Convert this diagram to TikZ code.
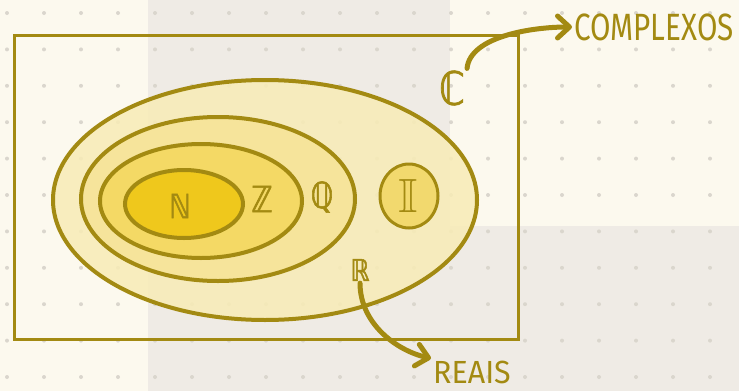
\documentclass[tikz,border=0pt]{standalone}
\usepackage{amssymb}
\usepackage{graphicx}
\usepackage{xcolor}
\usepackage{fontspec}
\usepackage{tikz}
\usetikzlibrary{arrows.meta}
\newfontfamily\handfont[FakeStretch=0.78]{Fira Sans}
\newfontfamily\handwide[FakeStretch=0.95]{Fira Sans}
\newfontfamily\setfont[FakeStretch=0.8, FakeBold=1.6]{DejaVu Sans}
\definecolor{inkgold}{HTML}{A38A12}
\definecolor{paperlight}{HTML}{FCF9EE}
\definecolor{paperdark}{HTML}{EFEBE5}
\definecolor{dotgray}{HTML}{DAD6CD}
\definecolor{fillR}{HTML}{F8ECB6}
\definecolor{fillQ}{HTML}{F6E49B}
\definecolor{fillZ}{HTML}{F4D965}
\definecolor{fillN}{HTML}{EFC81C}
\definecolor{fillI}{HTML}{F2D96E}
\tikzset{
  setlbl/.style={text=inkgold, inner sep=2pt},
  word/.style={text=inkgold, inner sep=2pt, font=\handfont\fontsize{38}{40}\selectfont},
  ring/.style={draw=inkgold, line width=4pt},
  arrow/.style={-{Straight Barb[round, length=12pt, width=22pt]}, line width=5pt, line cap=round, inkgold}
}

\begin{document}
\begin{tikzpicture}[x=1pt, y=-1pt]
    \useasboundingbox (0,0) rectangle (739,391);
    % dotted paper
    \fill[paperlight] (0,0) rectangle (739,391);
    \fill[paperdark] (148,0) rectangle (450,391);
    \fill[paperdark] (450,226) rectangle (739,391);
    \foreach \i in {0,...,19}
      \foreach \j in {0,...,10}
        \fill[dotgray] (7+37*\i, 13+36.4*\j) circle (2pt);
    % complex plane
    \draw[inkgold, line width=3pt] (14,35) rectangle (518,339);
    % nested sets
    \filldraw[ring, fill=fillR, fill opacity=0.85] (265,200) ellipse [x radius=212pt, y radius=120pt];
    \filldraw[ring, fill=fillQ] (218,199) ellipse [x radius=137pt, y radius=82pt];
    \filldraw[ring, fill=fillZ] (201,201) ellipse [x radius=101pt, y radius=57pt];
    \filldraw[ring, fill=fillN] (184,204) ellipse [x radius=59pt, y radius=34pt];
    \filldraw[ring, line width=3pt, fill=fillI] (409,196) ellipse [x radius=29pt, y radius=32pt];
    \node[setlbl, font=\setfont\fontsize{33}{35}\selectfont] (Nset) at (180,206) {ℕ};
    \node[setlbl, font=\setfont\fontsize{36}{38}\selectfont] (Zset) at (262,199) {ℤ};
    \node[setlbl, font=\setfont\fontsize{36}{38}\selectfont] (Qset) at (322,197) {ℚ};
    \node[setlbl] (Iset) at (408,196) {\scalebox{5}[4.8]{$\mathbb{I}$}};
    \node[setlbl, font=\setfont\fontsize{30}{32}\selectfont] (Rset) at (360,270) {ℝ};
    \node[setlbl, font=\setfont\fontsize{46}{48}\selectfont] (Cset) at (452,88) {ℂ};
    \node[word, anchor=west] (complexos) at (572,27) {COMPLEXOS};
    \node[word, anchor=west, font=\handwide\fontsize{32}{34}\selectfont] (reais) at (431,372) {REAIS};
    \draw[arrow] (Cset.north east) .. controls +(3,-32) and +(-40,0) .. (complexos.west);
    \draw[arrow] (Rset.south) .. controls +(0,40) and +(-35,-8) .. (reais.north west);
\end{tikzpicture}
\end{document}
